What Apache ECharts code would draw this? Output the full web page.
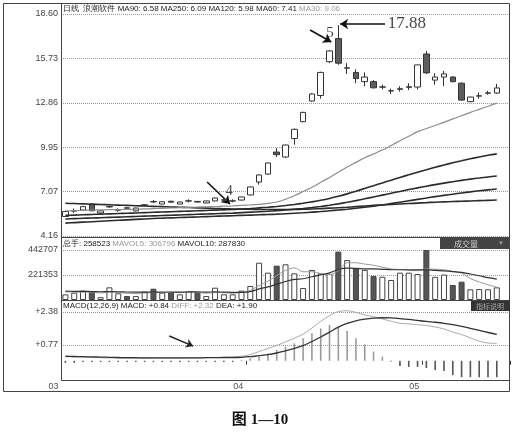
<!DOCTYPE html>
<html><head><meta charset="utf-8">
<script src="https://cdn.jsdelivr.net/npm/echarts@6/dist/echarts.min.js"></script>
<style>html,body{margin:0;padding:0;background:#fff}#c{width:525px;height:443px}</style>
</head><body><div id="c"></div>
<script>
// ---------- data ----------
const slotCount = 51;                 // category slots (last one empty)
const monthLabels = ['03', '04', '05'];
const monthStartIdx = [0, 21, 41];

const openP  = [5.43,5.78,5.85,6.24,5.66,6.05,5.84,5.99,5.79,6.16,6.40,6.24,6.42,6.24,6.43,6.41,6.31,6.44,6.49,6.43,6.50,6.83,7.67,8.19,9.62,9.30,10.50,11.60,12.94,13.30,15.50,17.00,15.08,14.80,14.20,14.20,13.84,13.59,13.70,13.83,13.85,16.00,14.30,14.50,14.50,14.10,12.90,13.26,13.45,13.46];
const closeP = [5.75,5.80,6.07,5.80,5.79,6.08,5.86,5.97,5.98,6.19,6.38,6.39,6.36,6.37,6.45,6.37,6.44,6.63,6.51,6.45,6.70,7.35,8.13,8.91,9.45,10.08,11.10,12.20,13.40,14.80,16.20,15.40,15.10,14.40,14.50,13.80,13.86,13.61,13.74,13.87,15.29,14.77,14.50,14.70,14.20,13.00,13.20,13.28,13.47,13.79];
const lowP   = [5.40,5.66,5.82,5.78,5.62,6.00,5.74,5.93,5.76,6.10,6.30,6.22,6.33,6.22,6.35,6.34,6.29,6.42,6.40,6.35,6.45,6.80,7.50,8.15,9.30,9.25,10.10,11.55,12.90,13.10,15.40,15.30,14.70,14.10,13.90,13.75,13.70,13.40,13.55,13.65,13.70,14.70,14.00,13.90,14.15,12.95,12.86,13.10,13.35,13.40];
const highP  = [5.80,5.95,6.10,6.28,5.82,6.13,5.96,6.03,6.00,6.23,6.50,6.42,6.45,6.40,6.55,6.43,6.46,6.66,6.60,6.55,6.72,7.38,8.15,8.95,9.88,10.10,11.15,12.25,13.45,14.85,16.25,17.88,15.40,15.00,14.80,14.30,14.00,13.75,13.90,14.10,15.30,16.20,14.75,14.90,14.55,14.15,13.22,13.50,13.60,14.05];

const ma30  = [5.79,5.81,5.83,5.85,5.86,5.87,5.88,5.89,5.90,5.92,5.94,5.96,5.98,6.00,6.02,6.04,6.06,6.08,6.10,6.12,6.15,6.18,6.22,6.28,6.37,6.55,6.78,7.05,7.33,7.65,7.97,8.30,8.65,8.95,9.25,9.50,9.75,10.05,10.35,10.65,10.95,11.15,11.35,11.55,11.78,11.98,12.20,12.40,12.60,12.80];
const ma60  = [5.50,5.52,5.54,5.56,5.58,5.60,5.62,5.64,5.66,5.68,5.70,5.72,5.74,5.76,5.78,5.80,5.82,5.84,5.86,5.88,5.92,5.95,5.99,6.03,6.08,6.14,6.21,6.29,6.38,6.48,6.60,6.74,6.90,7.07,7.25,7.43,7.61,7.79,7.97,8.14,8.31,8.47,8.63,8.78,8.92,9.05,9.18,9.30,9.41,9.50];
const ma90  = [5.27,5.29,5.31,5.33,5.35,5.37,5.39,5.41,5.43,5.45,5.47,5.49,5.51,5.53,5.55,5.57,5.59,5.61,5.63,5.65,5.68,5.71,5.74,5.77,5.81,5.85,5.90,5.95,6.01,6.08,6.16,6.25,6.35,6.46,6.58,6.70,6.82,6.94,7.06,7.18,7.29,7.40,7.50,7.60,7.69,7.78,7.86,7.93,8.00,8.06];
const ma120 = [5.00,5.03,5.06,5.09,5.12,5.15,5.18,5.21,5.24,5.27,5.30,5.32,5.34,5.36,5.38,5.40,5.42,5.44,5.46,5.48,5.50,5.52,5.54,5.56,5.58,5.61,5.64,5.67,5.71,5.75,5.80,5.85,5.90,5.96,6.03,6.10,6.18,6.27,6.36,6.45,6.54,6.63,6.72,6.80,6.88,6.96,7.03,7.10,7.16,7.22];
const ma250 = [6.29,6.27,6.25,6.23,6.21,6.19,6.17,6.15,6.13,6.11,6.09,6.07,6.05,6.03,6.01,5.99,5.97,5.95,5.93,5.92,5.91,5.90,5.89,5.88,5.88,5.88,5.89,5.90,5.92,5.94,5.97,6.00,6.03,6.07,6.11,6.15,6.18,6.21,6.24,6.27,6.30,6.33,6.36,6.38,6.40,6.42,6.44,6.46,6.48,6.50];

const volume = [50000,65000,83000,74000,25000,112000,59000,35000,35000,74000,100000,65000,68000,50000,77000,65000,35000,109000,50000,50000,83000,124000,330000,242000,304000,316000,236000,106000,266000,236000,230000,428000,354000,280000,266000,212000,206000,177000,242000,242000,230000,442000,205000,225000,133000,162000,95000,97000,95000,112000];
const mavol5  = [72000,70000,68000,70000,62000,72000,66000,60000,56000,62000,66000,64000,68000,65000,70000,66000,60000,66000,64000,60000,68000,85000,128000,166000,215000,262000,285000,250000,250000,235000,225000,260000,330000,330000,318000,308000,290000,275000,270000,262000,260000,275000,272000,268000,252000,238000,190000,160000,135000,115000];
const mavol10 = [78000,77000,76000,75000,73000,74000,73000,71000,70000,70000,70000,71000,71000,70000,71000,72000,70000,72000,70000,68000,68000,74000,98000,116000,140000,164000,182000,188000,206000,222000,240000,270000,282000,280000,275000,275000,272000,268000,268000,268000,266000,268000,262000,258000,252000,244000,230000,215000,198000,185000];

const diff = [0.20,0.19,0.18,0.17,0.15,0.14,0.13,0.12,0.12,0.12,0.12,0.13,0.13,0.13,0.14,0.14,0.15,0.16,0.17,0.18,0.22,0.30,0.45,0.60,0.75,0.92,1.10,1.30,1.60,1.92,2.20,2.40,2.44,2.36,2.24,2.15,2.04,1.93,1.83,1.80,1.76,1.72,1.65,1.55,1.40,1.28,1.12,0.95,0.87,0.84];
const dea  = [0.22,0.21,0.20,0.19,0.18,0.17,0.16,0.15,0.15,0.14,0.14,0.14,0.14,0.14,0.14,0.14,0.15,0.15,0.16,0.16,0.17,0.20,0.25,0.30,0.38,0.48,0.60,0.74,0.94,1.16,1.40,1.64,1.82,1.95,2.03,2.08,2.10,2.09,2.06,2.02,1.97,1.92,1.88,1.83,1.76,1.68,1.58,1.48,1.38,1.29];
const macdHist = [-0.10,-0.10,-0.06,-0.06,-0.06,-0.06,-0.06,-0.06,-0.06,-0.06,-0.06,-0.06,-0.06,-0.06,-0.06,-0.06,-0.06,-0.06,-0.06,-0.06,0.05,0.12,0.20,0.36,0.53,0.69,0.85,1.10,1.34,1.58,1.75,1.66,1.45,1.10,0.80,0.45,0.20,-0.03,-0.25,-0.30,-0.30,-0.35,-0.45,-0.50,-0.70,-0.80,-0.80,-0.80,-0.80,-0.80];

const priceTickLabels = ['4.16','7.07','9.95','12.86','15.73','18.60'];
const volTickLabels = ['', '221353', '442707'];
const macdTickLabels = ['', '+0.77', '+2.38'];

// annotations (in data units: slot index, value)
const priceArrows = [[[27.8,17.56],[30.2,16.78]], [[36.3,17.95],[31.2,17.95]], [[16.1,7.67],[18.7,6.24]]];
const priceNotes  = [[30.05,17.36,'5',15], [38.8,17.95,'17.88',17], [18.6,7.09,'4',14]];
const macdArrows  = [[[11.8,1.21],[14.5,0.72]]];

// ---------- chart ----------
const slotIds = Array.from({length: slotCount}, (_, i) => 'd' + i);
const isMonthStart = (i) => monthStartIdx.indexOf(i) >= 0;
const FONT = '"Liberation Sans", Arial, sans-serif';
const SERIF = '"Liberation Serif", "Noto Sans CJK SC", serif';

const chart = echarts.init(document.getElementById('c'), null, {renderer: 'canvas'});
const gridBase = {left: 61, right: 15, outerBoundsMode: 'none', containLabel: false};
const catAxis = (g) => ({type: 'category', gridIndex: g, data: slotIds, boundaryGap: true,
  axisLine: {show: false}, axisTick: {show: false}, axisLabel: {show: false}, splitLine: {show: false}});
const yLab = (labels, min, step) => ({fontSize: 9, color: '#444', fontFamily: FONT, margin: 3,
  formatter: (v) => labels[Math.round((v - min) / step)] || ''});
const split = {show: true, lineStyle: {color: '#9a9a9a', type: 'dotted', width: 1}};

const lineS = (name, data, color, width, xi, yi) => ({name, type: 'line', data, xAxisIndex: xi, yAxisIndex: yi,
  symbol: 'none', showSymbol: false, smooth: 0.3, clip: false, silent: true,
  lineStyle: {color, width}, itemStyle: {color}});

const option = {
  animation: false,
  backgroundColor: '#fff',
  textStyle: {fontFamily: FONT},
  grid: [
    Object.assign({top: 14, height: 222}, gridBase),
    Object.assign({top: 250, height: 50}, gridBase),
    Object.assign({top: 312, height: 66}, gridBase)
  ],
  xAxis: [
    catAxis(0), catAxis(1),
    {type: 'category', gridIndex: 2, data: slotIds, boundaryGap: true,
      axisLine: {show: false}, splitLine: {show: false},
      axisTick: {show: true, interval: (i) => isMonthStart(i), length: 4, lineStyle: {color: '#444'}},
      axisLabel: {show: true, interval: (i) => isMonthStart(i), fontSize: 9, color: '#555', margin: 4,
        align: 'right', padding: [0, 7, 0, 0],
        formatter: (v, i) => { const k = monthStartIdx.indexOf(i); return k >= 0 ? monthLabels[k] : ''; }}},
    {type: 'value', gridIndex: 0, min: -0.5, max: slotCount - 0.5, show: false},
    {type: 'value', gridIndex: 2, min: -0.5, max: slotCount - 0.5, show: false}
  ],
  yAxis: [
    {type: 'value', gridIndex: 0, min: 4.16, max: 18.6, interval: 2.888, axisLine: {show: false}, axisTick: {show: false},
      axisLabel: yLab(priceTickLabels, 4.16, 2.888), splitLine: split},
    {type: 'value', gridIndex: 1, min: 0, max: 442707, interval: 221353.5, axisLine: {show: false}, axisTick: {show: false},
      axisLabel: yLab(volTickLabels, 0, 221353.5), splitLine: Object.assign({showMinLine: false}, split)},
    {type: 'value', gridIndex: 2, min: -0.84, max: 2.38, interval: 1.61, axisLine: {show: false}, axisTick: {show: false},
      axisLabel: yLab(macdTickLabels, -0.84, 1.61), splitLine: Object.assign({showMinLine: false}, split)}
  ],
  series: [
    lineS('MA250', ma250, '#2b2b2b', 1.6, 0, 0),
    lineS('MA120', ma120, '#2b2b2b', 1.6, 0, 0),
    lineS('MA90', ma90, '#2b2b2b', 1.6, 0, 0),
    lineS('MA60', ma60, '#2b2b2b', 1.6, 0, 0),
    lineS('MA30', ma30, '#8c8c8c', 1.2, 0, 0),
    {name: 'K', type: 'candlestick', xAxisIndex: 0, yAxisIndex: 0, barWidth: 6, silent: true,
      data: openP.map((o, i) => [o, closeP[i], lowP[i], highP[i]]),
      itemStyle: {color: '#ffffff', color0: '#5e5e5e', borderColor: '#333', borderColor0: '#333', borderWidth: 1}},
    {name: 'VOL', type: 'bar', xAxisIndex: 1, yAxisIndex: 1, barWidth: 6, silent: true,
      data: volume.map((v, i) => ({value: v, itemStyle: {color: closeP[i] < openP[i] ? '#555' : '#fff'}})),
      itemStyle: {borderColor: '#444', borderWidth: 1}},
    lineS('MAVOL5', mavol5, '#999', 1, 1, 1),
    lineS('MAVOL10', mavol10, '#333', 1.2, 1, 1),
    {name: 'MACD', type: 'bar', xAxisIndex: 2, yAxisIndex: 2, barWidth: 1.6, silent: true,
      data: macdHist.map((v) => ({value: v, itemStyle: {color: v >= 0 ? '#9a9a9a' : '#555'}}))},
    lineS('DIFF', diff, '#aaa', 1, 2, 2),
    lineS('DEA', dea, '#333', 1.3, 2, 2),
    {name: 'arrowsP', type: 'lines', coordinateSystem: 'cartesian2d', xAxisIndex: 3, yAxisIndex: 0, silent: true,
      symbol: ['none', 'arrow'], symbolSize: 8, lineStyle: {color: '#111', width: 1.6, opacity: 1},
      data: priceArrows.map((a) => ({coords: a}))},
    {name: 'arrowsM', type: 'lines', coordinateSystem: 'cartesian2d', xAxisIndex: 4, yAxisIndex: 2, silent: true,
      symbol: ['none', 'arrow'], symbolSize: 7, lineStyle: {color: '#222', width: 1.4, opacity: 1},
      data: macdArrows.map((a) => ({coords: a}))},
    {name: 'notes', type: 'scatter', xAxisIndex: 3, yAxisIndex: 0, silent: true, symbolSize: 1,
      itemStyle: {color: 'rgba(0,0,0,0)'},
      data: priceNotes.map((n) => ({value: [n[0], n[1]], label: {fontSize: n[3]}, name: n[2]})),
      label: {show: true, position: 'inside', formatter: (p) => p.name, color: '#111', fontFamily: SERIF}}
  ],
  graphic: [
    {type: 'rect', silent: true, z: 100, shape: {x: 3.5, y: 3.5, width: 506, height: 388}, style: {fill: 'none', stroke: '#444', lineWidth: 1}},
    {type: 'line', silent: true, z: 100, shape: {x1: 61.5, y1: 3.5, x2: 61.5, y2: 380.5}, style: {stroke: '#444', lineWidth: 1}},
    {type: 'line', silent: true, z: 100, shape: {x1: 61.5, y1: 237.5, x2: 509.5, y2: 237.5}, style: {stroke: '#444', lineWidth: 1}},
    {type: 'line', silent: true, z: 100, shape: {x1: 61.5, y1: 300.5, x2: 509.5, y2: 300.5}, style: {stroke: '#444', lineWidth: 1}},
    {type: 'line', silent: true, z: 100, shape: {x1: 61.5, y1: 380.5, x2: 509.5, y2: 380.5}, style: {stroke: '#444', lineWidth: 1}},
    {type: 'text', silent: true, z: 100, style: {x: 63, y: 8.5, verticalAlign: 'middle',
      text: '{a|日线  浪潮软件 MA90: 6.58 MA250: 6.09 MA120: 5.98 MA60: 7.41 }{b|MA30: 9.06}',
      rich: {a: {fill: '#222', fontSize: 8, fontFamily: FONT}, b: {fill: '#999', fontSize: 8, fontFamily: FONT}}}},
    {type: 'text', silent: true, z: 100, style: {x: 63, y: 243.5, verticalAlign: 'middle',
      text: '{a|总手: 258523 }{b|MAVOL5: 306796 }{a|MAVOL10: 287830}',
      rich: {a: {fill: '#222', fontSize: 8, fontFamily: FONT}, b: {fill: '#999', fontSize: 8, fontFamily: FONT}}}},
    {type: 'text', silent: true, z: 100, style: {x: 63, y: 305.5, verticalAlign: 'middle',
      text: '{a|MACD(12,26,9) MACD: +0.84 }{b|DIFF: +2.32 }{a|DEA: +1.90}',
      rich: {a: {fill: '#222', fontSize: 8, fontFamily: FONT}, b: {fill: '#999', fontSize: 8, fontFamily: FONT}}}},
    {type: 'rect', silent: true, z: 100, shape: {x: 440, y: 238, width: 70, height: 11}, style: {fill: '#444'}},
    {type: 'text', silent: true, z: 101, style: {x: 466, y: 243.5, align: 'center', verticalAlign: 'middle', text: '成交量',
      fill: '#ccc', fontSize: 8, fontFamily: '"Noto Sans CJK SC", sans-serif'}},
    {type: 'text', silent: true, z: 101, style: {x: 501, y: 243.5, align: 'center', verticalAlign: 'middle', text: '▼',
      fill: '#999', fontSize: 6}},
    {type: 'rect', silent: true, z: 100, shape: {x: 471, y: 301, width: 39, height: 10}, style: {fill: '#333'}},
    {type: 'text', silent: true, z: 101, style: {x: 490, y: 306, align: 'center', verticalAlign: 'middle', text: '指标说明',
      fill: '#aaa', fontSize: 7, fontFamily: '"Noto Sans CJK SC", sans-serif'}},
    {type: 'text', silent: true, z: 100, style: {x: 260, y: 420, align: 'center', verticalAlign: 'middle', text: '图 1—10',
      fill: '#111', fontSize: 15, fontWeight: 'bold', fontFamily: SERIF}}
  ]
};
chart.setOption(option);
</script>
</body></html>
